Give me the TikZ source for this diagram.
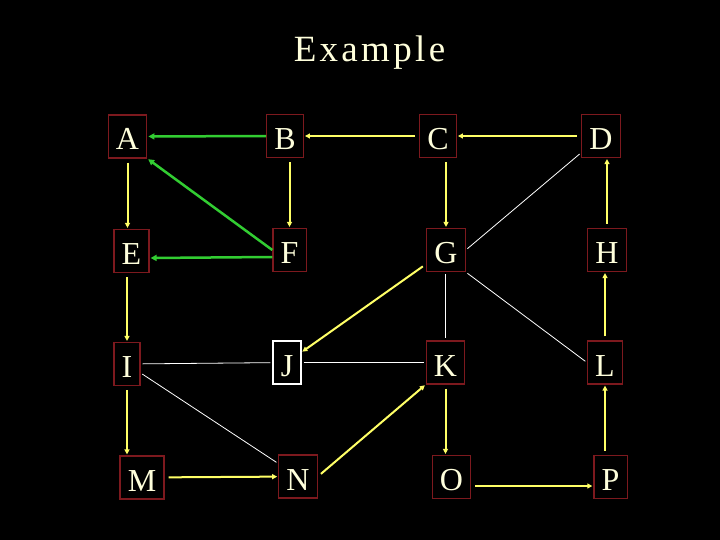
\documentclass[tikz,border=0pt]{standalone}
\usepackage{fontspec}
\setmainfont{Liberation Serif}
\usetikzlibrary{arrows.meta}
\definecolor{boxred}{RGB}{125,25,30}
\definecolor{cream}{RGB}{255,255,220}
\definecolor{arrowgreen}{RGB}{50,205,50}
\definecolor{arrowyellow}{RGB}{255,255,102}
\tikzset{
    letter-box/.style = {draw=boxred, line width=1.2pt, text=cream, font=\fontsize{32}{32}\selectfont, inner xsep=7.7pt, inner ysep=0pt, text height=35pt, text depth=8pt},
    title-text/.style = {text=cream, font=\fontsize{37}{37}\selectfont\addfontfeature{LetterSpace=9}, anchor=base},
    green-arrow/.style = {draw=arrowgreen, line width=2.5pt, -{Triangle[length=6pt,width=6pt]}, shorten >=1pt},
    yellow-arrow/.style = {draw=arrowyellow, line width=2pt, -{Triangle[length=5pt,width=5pt]}, shorten <=4pt, shorten >=1pt},
    white-line/.style = {draw=white, line width=0.8pt, shorten <=2pt, shorten >=2pt},
}

\begin{document}
\begin{tikzpicture}[x=1pt, y=-1pt]
\fill[black] (0,0) rectangle (720,540);
\useasboundingbox (0,0) rectangle (720,540);

\node[title-text] (title) at (369.5,62) {Example};

% first row
\node[letter-box] (A) at (127.5,136.5) {A};
\node[letter-box] (B) at (285,136) {B};
\node[letter-box] (C) at (438,136) {C};
\node[letter-box] (D) at (601,136) {D};
% second row
\node[letter-box] (E) at (131.5,251) {E};
\node[letter-box] (F) at (289.5,250) {F};
\node[letter-box] (G) at (446,250) {G};
\node[letter-box] (H) at (607,250) {H};
% third row
\node[letter-box] (I) at (127,364) {I};
\node[letter-box, draw=white] (J) at (287,362.5) {J};
\node[letter-box] (K) at (445.5,362.5) {K};
\node[letter-box] (L) at (605,362.5) {L};
% fourth row
\node[letter-box] (M) at (142,477.5) {M};
\node[letter-box] (N) at (298,476.5) {N};
\node[letter-box] (O) at (451.5,477) {O};
\node[letter-box] (P) at (610.5,477) {P};

% green arrows
\draw[green-arrow] (B) -- (A);
\draw[green-arrow] (F.west) -- (A.south east);
\draw[green-arrow] ([yshift=-7pt]F.west) -- ([yshift=-7pt]E.east);

% yellow arrows
\draw[yellow-arrow] (C) -- (B);
\draw[yellow-arrow] (D) -- (C);
\draw[yellow-arrow] (A.south) -- (A.south |- E.north);
\draw[yellow-arrow] (F.north |- B.south) -- (F.north);
\draw[yellow-arrow] (G.north |- C.south) -- (G.north);
\draw[yellow-arrow] (H.north) -- (H.north |- D.south);
\draw[yellow-arrow] (L.north) -- (L.north |- H.south);
\draw[yellow-arrow] (G) -- (J);
\draw[yellow-arrow] (I.north |- E.south) -- (I.north);
\draw[yellow-arrow] (I.south) -- (I.south |- M.north);
\draw[yellow-arrow] (M) -- (N);
\draw[yellow-arrow] (N.east) -- (K.south west);
\draw[yellow-arrow] (K.south) -- (K.south |- O.north);
\draw[yellow-arrow] ([yshift=-9pt]O.east) -- ([yshift=-9pt]O.east -| P.west);
\draw[yellow-arrow] (L.south |- P.north) -- (L.south);

% white lines
\draw[white-line] (D) -- (G.east);
\draw[white-line] (G.south east) -- (L.west);
\draw[white-line] (K.north |- G.south) -- (K.north);
\draw[white-line] (I) -- (J);
\draw[white-line] (J) -- (K);
\draw[white-line] (I) -- (N);
\end{tikzpicture}
\end{document}
